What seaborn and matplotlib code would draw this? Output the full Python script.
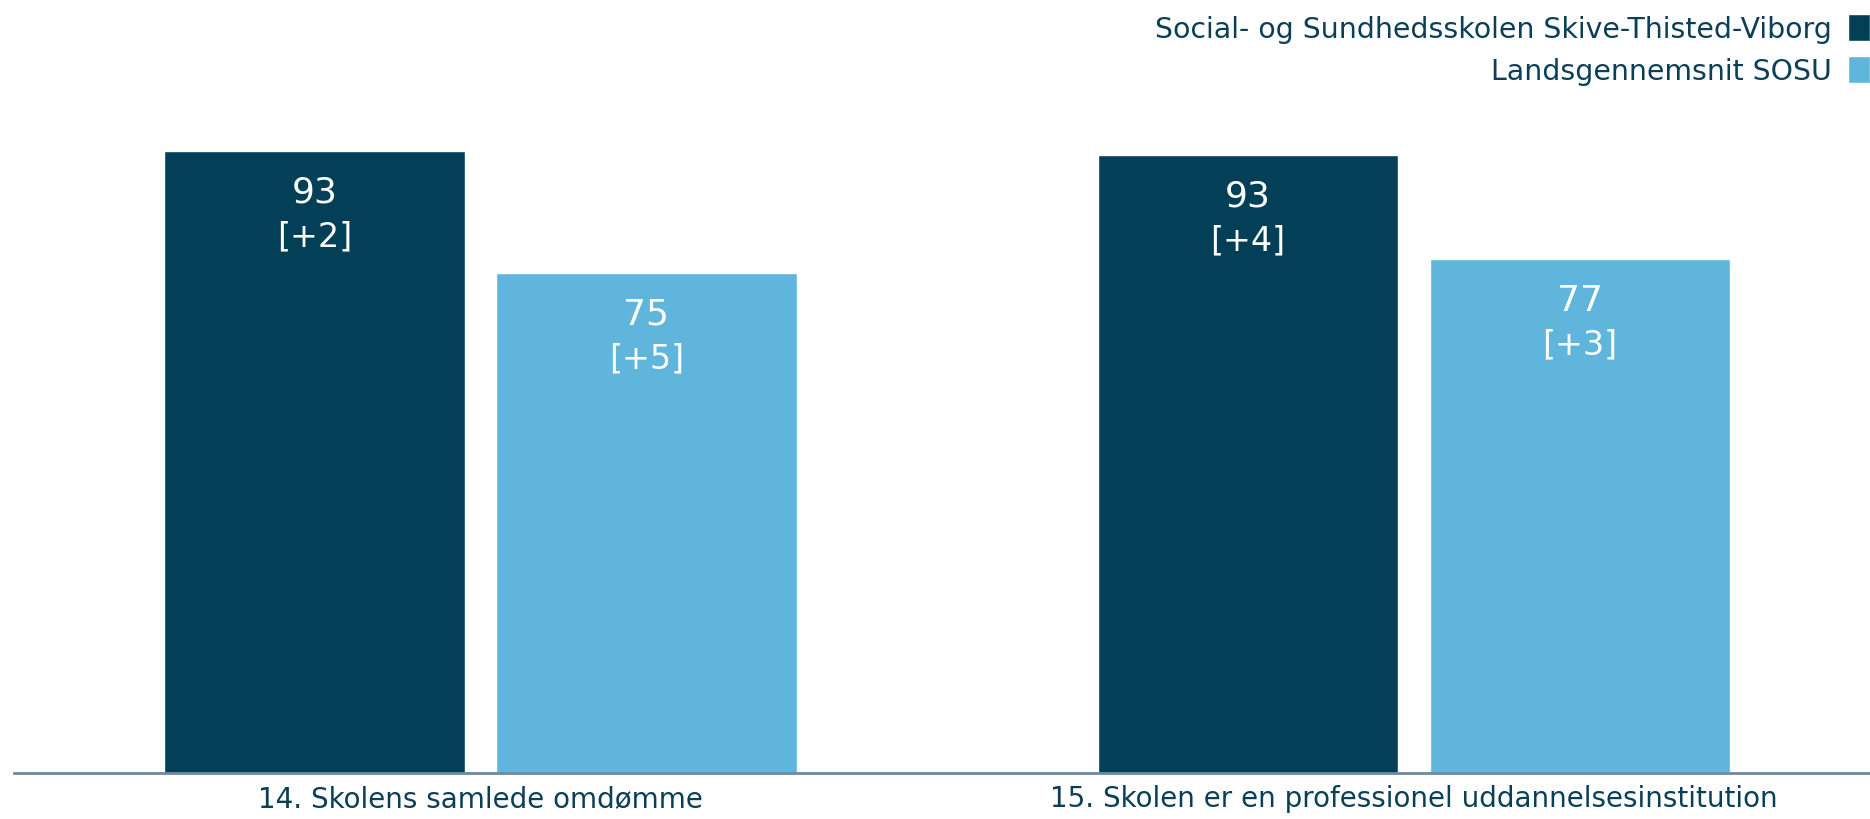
import seaborn as sns
import matplotlib.pyplot as plt
import pandas as pd

# Values
questions = [
    "14. Skolens samlede omdømme",
    "15. Skolen er en professionel uddannelsesinstitution",
]
series = ["Social- og Sundhedsskolen Skive-Thisted-Viborg", "Landsgennemsnit SOSU"]
school_values = [93.3, 92.7]
national_values = [75.0, 77.1]
school_changes = ["+2", "+4"]
national_changes = ["+5", "+3"]

DARK = "#033F57"
LIGHT = "#5FB5DB"
TEXT = "#0A3F58"

df = pd.DataFrame({
    "question": questions * 2,
    "series": [series[0]] * 2 + [series[1]] * 2,
    "value": school_values + national_values,
    "change": school_changes + national_changes,
})

sns.set_style("white")
plt.rcParams["font.family"] = ["DejaVu Sans"]

fig = plt.figure(figsize=(18.7, 8.2), dpi=100)
ax = fig.add_axes([13.75 / 1870, 46 / 820, 1867 / 1870, 667 / 820])

sns.barplot(
    data=df, x="question", y="value", hue="series",
    palette=[DARK, LIGHT], saturation=1, width=0.711, gap=0.0935,
    errorbar=None, ax=ax,
)

ax.set_xlim(-0.5, 1.5)
ax.set_ylim(0, 100)
ax.set_xlabel("")
ax.set_ylabel("")
ax.set_yticks([])
for side in ["left", "top", "right"]:
    ax.spines[side].set_visible(False)
ax.spines["bottom"].set_color("#6E89A2")
ax.spines["bottom"].set_linewidth(2)
ax.tick_params(axis="x", length=0, pad=8, labelsize=20, labelcolor=TEXT)

# value and change labels inside the top of each bar
for container, name in zip(ax.containers, series):
    sub = df[df["series"] == name]
    for patch, val, chg in zip(container, sub["value"], sub["change"]):
        cx = patch.get_x() + patch.get_width() / 2
        top = patch.get_height()
        ax.annotate(f"{val:.0f}", (cx, top), xytext=(0, -41), textcoords="offset pixels",
                    ha="center", va="center", color="white", fontsize=26)
        ax.annotate(f"[{chg}]", (cx, top), xytext=(0, -85), textcoords="offset pixels",
                    ha="center", va="center", color="white", fontsize=24)

handles, labels = ax.get_legend_handles_labels()
ax.legend(
    handles, labels, markerfirst=False, frameon=False,
    loc="upper right", bbox_to_anchor=(1.0, 1 - 15 / 820), bbox_transform=fig.transFigure,
    fontsize=20.4, labelcolor=TEXT, handlelength=0.78, handleheight=1.1,
    handletextpad=0.55, labelspacing=0.45, borderaxespad=0.0, borderpad=0.0,
)

fig.savefig("out.png", dpi=100)
